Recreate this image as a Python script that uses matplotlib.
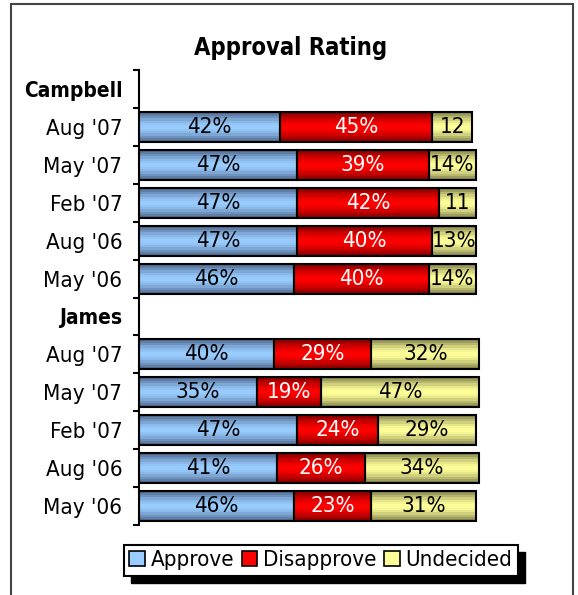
import numpy as np
import matplotlib.pyplot as plt
from matplotlib.patches import Rectangle, Patch

plt.rcParams["font.family"] = "DejaVu Sans"
plt.rcParams["font.stretch"] = "condensed"

# categories, top to bottom
groups = ["Campbell", "James"]
dates = ["Aug '07", "May '07", "Feb '07", "Aug '06", "May '06"]

campbell_approve = [42, 47, 47, 47, 46]
campbell_disapprove = [45, 39, 42, 40, 40]
campbell_undecided = [12, 14, 11, 13, 14]

james_approve = [40, 35, 47, 41, 46]
james_disapprove = [29, 19, 24, 26, 23]
james_undecided = [32, 47, 29, 34, 31]

series_names = ["Approve", "Disapprove", "Undecided"]

# gradient colours: (edge, centre)
grad_cols = {
    "Approve": ((0.30, 0.40, 0.54), (0.60, 0.80, 1.0)),
    "Disapprove": ((0.50, 0.0, 0.0), (1.0, 0.0, 0.0)),
    "Undecided": ((0.50, 0.50, 0.30), (1.0, 1.0, 0.60)),
}
label_cols = {"Approve": "black", "Disapprove": "white", "Undecided": "black"}

row_labels = [groups[0]] + dates + [groups[1]] + dates
pos = list(range(1, 6)) + list(range(7, 12))
approve = campbell_approve + james_approve
disapprove = campbell_disapprove + james_disapprove
undecided = campbell_undecided + james_undecided


def gradient(name, n=14):
    edge, centre = grad_cols[name]
    t = (np.arange(n) + 0.5) / n
    f = np.sin(np.pi * t) ** 1.3
    edge = np.array(edge)
    centre = np.array(centre)
    g = edge[None, :] + (centre - edge)[None, :] * f[:, None]
    return g[:, None, :]


fig = plt.figure(figsize=(5.78, 5.95), dpi=100)
ax = fig.add_axes([0.2405, 0.1176, 0.7284, 0.7647])

left = np.zeros(len(pos))
for name, vals in zip(series_names, [approve, disapprove, undecided]):
    vals = np.array(vals)
    bars = ax.barh(pos, vals, left=left, height=0.79, facecolor="none",
                   edgecolor="black", linewidth=1.5, zorder=3)
    g = gradient(name)
    for p in bars:
        x, y, w, h = p.get_x(), p.get_y(), p.get_width(), p.get_height()
        ax.imshow(g, extent=[x, x + w, y + h, y], aspect="auto", zorder=2,
                  clip_path=p, interpolation="nearest")
    if name == "Undecided":
        labs = [f"{v}%" if v >= 13 else str(v) for v in vals]
    else:
        labs = [f"{v}%" for v in vals]
    ax.bar_label(bars, labels=labs, label_type="center", fontsize=16,
                 color=label_cols[name], zorder=4)
    left = left + vals

ax.set_xlim(0, 125)
ax.set_ylim(11.5, -0.5)

for s in ["top", "right", "bottom"]:
    ax.spines[s].set_visible(False)
ax.spines["left"].set_linewidth(1.5)
ax.set_xticks([])

ax.set_yticks(np.arange(-0.5, 12, 1))
ax.set_yticklabels([])
ax.tick_params(axis="y", which="major", direction="out", length=4, width=1.5)
ax.set_yticks(np.arange(12), minor=True)
ax.set_yticklabels(row_labels, minor=True, fontsize=16)
ax.tick_params(axis="y", which="minor", length=0, pad=12)
for lab in ax.get_yticklabels(minor=True):
    if lab.get_text() in groups:
        lab.set_fontweight("bold")
        lab.set_fontsize(15)

fig.text(0.503, 0.919, "Approval Rating", ha="center", va="center",
         fontsize=17, fontweight="bold")

handles = [Patch(facecolor=grad_cols[n][1], edgecolor="black", linewidth=1.2)
           for n in series_names]
leg = fig.legend(handles, series_names, loc="center",
                 bbox_to_anchor=(0.555, 0.058), ncol=3, fontsize=16,
                 frameon=True, fancybox=False, edgecolor="black", framealpha=1,
                 handlelength=0.7, handleheight=0.7, handletextpad=0.25,
                 columnspacing=0.35, borderpad=0.25, borderaxespad=0)
leg.get_frame().set_linewidth(1.5)

# solid drop shadow behind the legend box
fig.canvas.draw()
bb = leg.get_frame().get_window_extent()
fig.add_artist(Rectangle((bb.x0 + 7, bb.y0 - 7), bb.width, bb.height,
                         transform=None, facecolor="black", edgecolor="black",
                         zorder=leg.get_zorder() - 0.5))

fig.add_artist(Rectangle((11 / 578, -0.05), (573 - 11) / 578, 1.05 - 4 / 595,
                         transform=fig.transFigure, fill=False,
                         edgecolor="#444444", linewidth=1.5))

fig.savefig("out.png", dpi=100)
